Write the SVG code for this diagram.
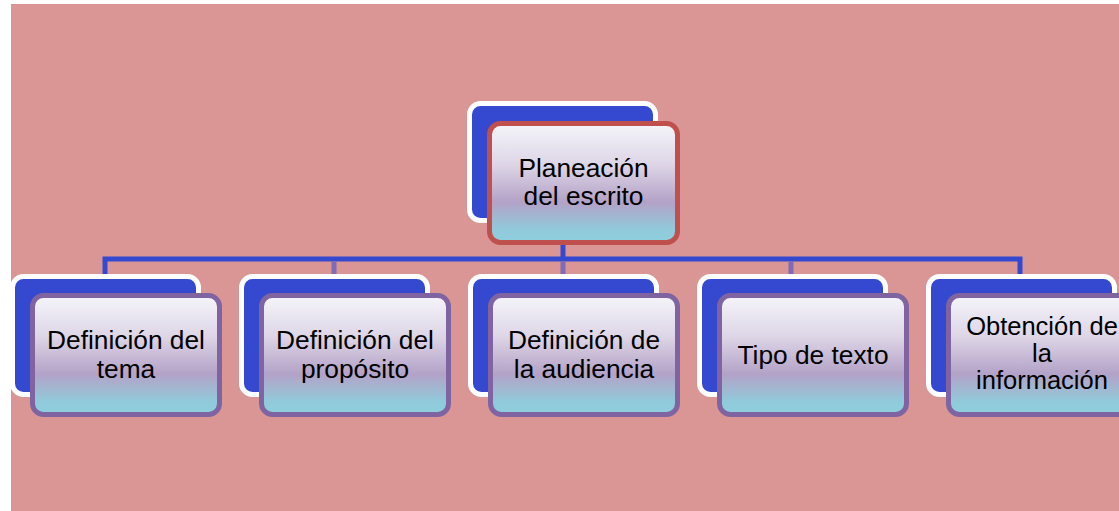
<svg xmlns="http://www.w3.org/2000/svg" width="1119" height="511" viewBox="0 0 1119 511">
<style>
.back{fill:#3449d0;stroke:#ffffff;stroke-width:5}
.front{fill:url(#g);stroke:#8064a2;stroke-width:5}
.top{stroke:#c0504d}
.t{font-family:"Liberation Sans",Arial,sans-serif;font-size:26.3px;fill:#000;text-anchor:middle}
.t3{font-size:25.5px}
.ln{stroke:#3449d0;stroke-width:5;fill:none}
.dr{stroke:#7f6bb6;stroke-width:5;fill:none}
</style>
<defs>
<linearGradient id="g" x1="0" y1="0" x2="0" y2="1">
<stop offset="0" stop-color="#f5f5fa"/>
<stop offset="0.35" stop-color="#ddd5e6"/>
<stop offset="0.66" stop-color="#b3a2c7"/>
<stop offset="0.9" stop-color="#90cbdb"/>
<stop offset="1" stop-color="#8ecfdd"/>
</linearGradient>
</defs>
<rect x="0" y="0" width="1119" height="511" fill="#ffffff"/>
<rect x="11" y="4" width="1108" height="507" fill="#d99694"/>
<g id="connectors">
<line class="ln" x1="563" y1="243" x2="563" y2="259"/>
<polyline class="ln" points="105,274 105,259 1020,259 1020,274"/>
<line class="dr" x1="334" y1="261.5" x2="334" y2="275"/>
<line class="dr" x1="563" y1="261.5" x2="563" y2="275"/>
<line class="dr" x1="791" y1="261.5" x2="791" y2="275"/>
</g>
<g id="node-planeacion">
<rect class="back" x="469.5" y="103.5" width="186" height="117" rx="11"/>
<rect class="front top" x="489.5" y="123.5" width="188" height="119" rx="11"/>
<text class="t" x="583.5" y="177">Planeación</text>
<text class="t" x="583.5" y="205">del escrito</text>
</g>
<g id="node-tema">
<rect class="back" x="12.5" y="276.5" width="186" height="118" rx="11"/>
<rect class="front" x="32.5" y="295.5" width="187" height="119" rx="11"/>
<text class="t" x="126" y="349">Definición del</text>
<text class="t" x="126" y="378">tema</text>
</g>
<g id="node-proposito">
<rect class="back" x="241.5" y="276.5" width="186" height="118" rx="11"/>
<rect class="front" x="261.5" y="295.5" width="187" height="119" rx="11"/>
<text class="t" x="355" y="349">Definición del</text>
<text class="t" x="355" y="378">propósito</text>
</g>
<g id="node-audiencia">
<rect class="back" x="470.5" y="276.5" width="186" height="118" rx="11"/>
<rect class="front" x="490.5" y="295.5" width="187" height="119" rx="11"/>
<text class="t" x="584" y="349">Definición de</text>
<text class="t" x="584" y="378">la audiencia</text>
</g>
<g id="node-tipo">
<rect class="back" x="699.5" y="276.5" width="186" height="118" rx="11"/>
<rect class="front" x="719.5" y="295.5" width="187" height="119" rx="11"/>
<text class="t" x="813" y="364">Tipo de texto</text>
</g>
<g id="node-obtencion">
<rect class="back" x="928.5" y="276.5" width="186" height="118" rx="11"/>
<rect class="front" x="948.5" y="295.5" width="187" height="119" rx="11"/>
<text class="t t3" x="1042" y="335">Obtención de</text>
<text class="t t3" x="1042" y="362">la</text>
<text class="t t3" x="1042" y="389">información</text>
</g>
</svg>
